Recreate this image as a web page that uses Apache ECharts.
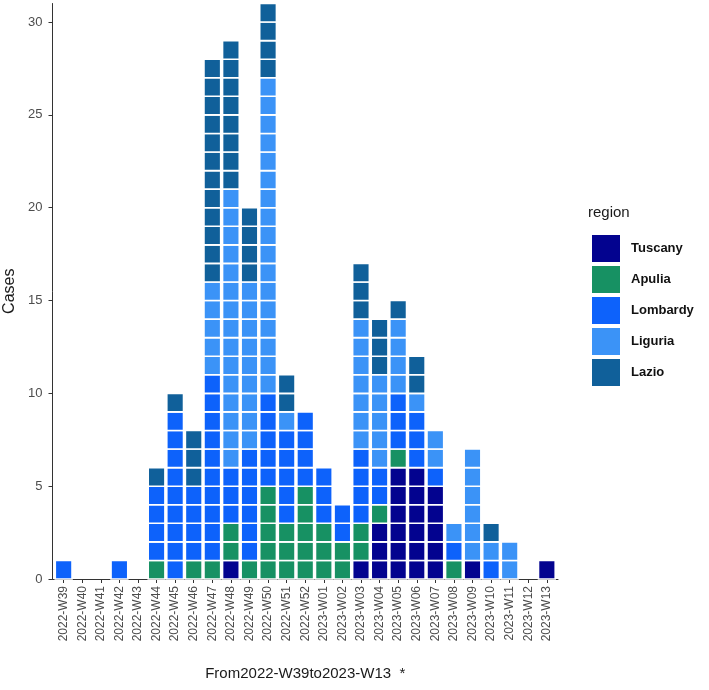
<!DOCTYPE html>
<html>
<head>
<meta charset="utf-8">
<script src="https://cdn.jsdelivr.net/npm/echarts@6/dist/echarts.min.js"></script>
<style>
html,body{margin:0;padding:0;background:#fff;}
#chart{width:709px;height:690px;}
</style>
</head>
<body>
<div id="chart"></div>
<script>
var weeks = ["2022-W39","2022-W40","2022-W41","2022-W42","2022-W43","2022-W44","2022-W45","2022-W46","2022-W47","2022-W48","2022-W49","2022-W50","2022-W51","2022-W52","2023-W01","2023-W02","2023-W03","2023-W04","2023-W05","2023-W06","2023-W07","2023-W08","2023-W09","2023-W10","2023-W11","2023-W12","2023-W13"];
var regions = ["Tuscany","Apulia","Lombardy","Liguria","Lazio"];
//                 W39 40 41 42 43 44 45 46 47 48 49 50 51 52 01 02 03 04 05 06 07 08 09 10 11 12 13
var tuscany  = [0, 0, 0, 0, 0, 0, 0, 0, 0, 1, 0, 0, 0, 0, 0, 0, 1, 3, 6, 6, 5, 0, 1, 0, 0, 0, 1];
var apulia   = [0, 0, 0, 0, 0, 1, 0, 1, 1, 2, 1, 5, 3, 5, 3, 2, 2, 1, 1, 0, 0, 1, 0, 0, 0, 0, 0];
var lombardy = [1, 0, 0, 1, 0, 4, 9, 4,10, 3, 6, 5, 5, 4, 3, 2, 4, 2, 3, 3, 1, 1, 0, 1, 0, 0, 0];
var liguria  = [0, 0, 0, 0, 0, 0, 0, 0, 5,15, 9,17, 1, 0, 0, 0, 7, 5, 4, 1, 2, 1, 6, 1, 2, 0, 0];
var lazio    = [0, 0, 0, 0, 0, 1, 1, 3,12, 8, 4, 4, 2, 0, 0, 0, 3, 3, 1, 2, 0, 0, 0, 1, 0, 0, 0];
var yTicks = [0, 5, 10, 15, 20, 25, 30];

var values = [tuscany, apulia, lombardy, liguria, lazio];
var colors = ["#03038f", "#179163", "#0d62fb", "#3b93f7", "#10609a"];

var font = "'Liberation Sans', Arial, sans-serif";
var base = weeks.map(function(){return 0;});
var series = regions.map(function(name, si){
  var data = [];
  values[si].forEach(function(v, i){
    if (v > 0) data.push([i, base[i], v]);
    base[i] += v;
  });
  var col = colors[si];
  return {
    name: name,
    type: 'custom',
    itemStyle: {color: col},
    encode: {x: 0, y: 1},
    data: data,
    renderItem: function(params, api){
      var x = api.value(0), b = api.value(1), n = api.value(2);
      var children = [];
      for (var k = 0; k < n; k++) {
        var p0 = api.coord([x - 0.45, b + k + 1]);
        var p1 = api.coord([x + 0.45, b + k]);
        children.push({
          type: 'rect',
          shape: {x: p0[0], y: p0[1], width: p1[0] - p0[0], height: p1[1] - p0[1]},
          style: {fill: col, stroke: '#ffffff', lineWidth: 1.6}
        });
      }
      return {type: 'group', children: children};
    }
  };
});

var chart = echarts.init(document.getElementById('chart'), null, {renderer: 'canvas'});
chart.setOption({
  backgroundColor: '#ffffff',
  animation: false,
  title: {
    text: 'region', left: 583, top: 200,
    textStyle: {fontFamily: font, fontSize: 15, fontWeight: 'normal', color: '#1a1a1a'}
  },
  legend: {
    orient: 'vertical', left: 587, top: 230,
    itemWidth: 28, itemHeight: 27, itemGap: 4,
    icon: 'rect',
    data: regions,
    textStyle: {fontFamily: font, fontSize: 13, fontWeight: 'bold', color: '#111', padding: [0,0,0,6]}
  },
  grid: {left: 52.5, right: 151, top: 3.5, bottom: 111, containLabel: false, outerBoundsMode: 'none'},
  xAxis: {
    type: 'value', min: -0.6, max: 26.6,
    name: 'From2022-W39to2023-W13  *', nameLocation: 'middle', nameGap: 87,
    nameTextStyle: {fontFamily: font, fontSize: 15, color: '#1a1a1a'},
    splitLine: {show: false},
    axisLine: {show: true, onZero: false, lineStyle: {color: '#333', width: 1}},
    axisTick: {show: true, length: 4, lineStyle: {color: '#333'}, customValues: weeks.map(function(w,i){return i;})},
    axisLabel: {
      customValues: weeks.map(function(w,i){return i;}),
      rotate: 90, margin: 7,
      fontFamily: font, fontSize: 12, color: '#4d4d4d',
      formatter: function(v){ return weeks[Math.round(v)] || ''; }
    }
  },
  yAxis: {
    type: 'value', min: 0, max: 31,
    name: 'Cases', nameLocation: 'middle', nameGap: 31,
    nameTextStyle: {fontFamily: font, fontSize: 16, color: '#1a1a1a'},
    splitLine: {show: false},
    axisLine: {show: true, onZero: false, lineStyle: {color: '#333', width: 1}},
    axisTick: {show: true, length: 4, lineStyle: {color: '#333'}, customValues: yTicks},
    axisLabel: {customValues: yTicks, margin: 10, fontFamily: font, fontSize: 13, color: '#4d4d4d'}
  },
  series: series
});
</script>
</body>
</html>
